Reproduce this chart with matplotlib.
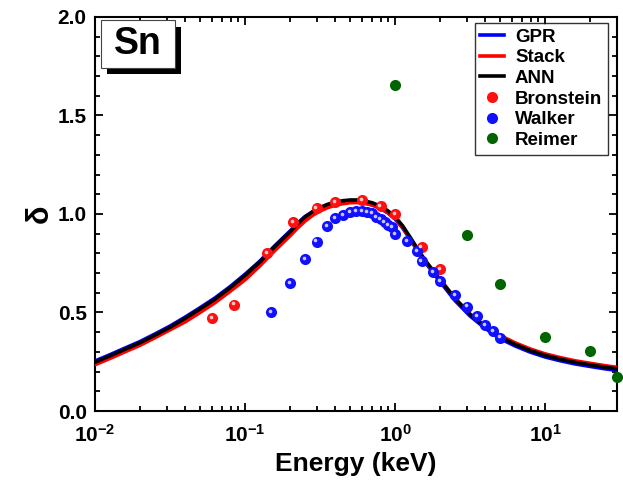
import matplotlib
matplotlib.use("Agg")
import matplotlib.pyplot as plt
from matplotlib.patches import Rectangle
from matplotlib.ticker import MultipleLocator, LogLocator, NullFormatter, FormatStrFormatter
from matplotlib.transforms import offset_copy

plt.rcParams['font.family'] = ['Liberation Sans', 'DejaVu Sans']
plt.rcParams['font.weight'] = 'bold'
plt.rcParams['mathtext.default'] = 'bf'

# ---- model curves ----
curve_E = [0.01, 0.0126, 0.0158, 0.02, 0.0251, 0.0316, 0.0398, 0.0501, 0.0631, 0.0794,
           0.1, 0.126, 0.158, 0.2, 0.224, 0.251, 0.282, 0.316, 0.355, 0.398,
           0.447, 0.501, 0.562, 0.631, 0.708, 0.794, 0.891, 1.0, 1.122, 1.259,
           1.413, 1.585, 2.0, 2.51, 3.16, 3.98, 5.01, 6.31, 7.94, 10.0,
           12.6, 15.8, 20.0, 25.1, 30.0]
ann_d   = [0.248, 0.280, 0.313, 0.347, 0.385, 0.425, 0.470, 0.518, 0.568, 0.625,
           0.688, 0.758, 0.835, 0.910, 0.950, 0.985, 1.012, 1.033, 1.049, 1.060,
           1.067, 1.071, 1.071, 1.066, 1.056, 1.040, 1.017, 0.985, 0.940, 0.882,
           0.822, 0.765, 0.665, 0.570, 0.490, 0.428, 0.375, 0.338, 0.307, 0.282,
           0.263, 0.247, 0.234, 0.222, 0.214]
gpr_d   = [0.254, 0.286, 0.319, 0.353, 0.391, 0.431, 0.476, 0.524, 0.574, 0.631,
           0.694, 0.762, 0.839, 0.914, 0.953, 0.987, 1.010, 1.027, 1.040, 1.049,
           1.056, 1.060, 1.060, 1.055, 1.045, 1.029, 1.006, 0.974, 0.929, 0.872,
           0.812, 0.755, 0.655, 0.560, 0.482, 0.420, 0.367, 0.330, 0.299, 0.274,
           0.255, 0.239, 0.226, 0.214, 0.206]
stack_d = [0.235, 0.267, 0.300, 0.334, 0.372, 0.412, 0.452, 0.500, 0.550, 0.607,
           0.666, 0.738, 0.815, 0.890, 0.929, 0.964, 0.993, 1.015, 1.032, 1.044,
           1.052, 1.057, 1.058, 1.054, 1.045, 1.030, 1.008, 0.979, 0.934, 0.876,
           0.816, 0.759, 0.667, 0.572, 0.492, 0.430, 0.383, 0.346, 0.315, 0.290,
           0.271, 0.255, 0.242, 0.230, 0.222]

# ---- experimental data ----
bron_E = [0.06, 0.085, 0.14, 0.21, 0.3, 0.4, 0.6, 0.8, 1.0, 1.5, 2.0]
bron_d = [0.47, 0.54, 0.80, 0.96, 1.03, 1.06, 1.07, 1.04, 1.00, 0.83, 0.72]

walk_E = [0.15, 0.2, 0.25, 0.3, 0.35, 0.4, 0.45, 0.5, 0.55, 0.6, 0.65, 0.7, 0.75,
          0.8, 0.85, 0.9, 0.95, 1.0, 1.2, 1.4, 1.5, 1.8, 2.0, 2.5, 3.0, 3.5, 4.0,
          4.5, 5.0]
walk_d = [0.50, 0.65, 0.77, 0.86, 0.94, 0.98, 0.995, 1.009, 1.016, 1.013, 1.009,
          1.003, 0.985, 0.972, 0.958, 0.945, 0.932, 0.896, 0.864, 0.813, 0.761,
          0.706, 0.658, 0.587, 0.530, 0.481, 0.438, 0.405, 0.373]

reim_E = [1.0, 3.0, 5.0, 10.0, 20.0, 30.0]
reim_d = [1.652, 0.893, 0.643, 0.378, 0.307, 0.175]

fig = plt.figure(figsize=(6.23, 4.97), dpi=100)
ax = fig.add_axes([0.1525, 0.173, 0.8375, 0.793])

ax.plot(curve_E, gpr_d, color='#0000ff', lw=2.6, label='GPR', zorder=3)
ax.plot(curve_E, stack_d, color='#ff0000', lw=2.6, label='Stack', zorder=4)
ax.plot(curve_E, ann_d, color='#000000', lw=2.6, label='ANN', zorder=5)

# glossy markers: base dot plus a small light highlight
hl = offset_copy(ax.transData, fig=fig, x=-1.2, y=1.2, units='dots')
ax.plot(bron_E, bron_d, 'o', ms=8, mfc='#ff1010', mec='none', label='Bronstein', zorder=6)
ax.plot(bron_E, bron_d, 'o', ms=2.6, mfc='#ffc8c8', mec='none', transform=hl, zorder=7)
ax.plot(walk_E, walk_d, 'o', ms=8, mfc='#1010ff', mec='none', label='Walker', zorder=6)
ax.plot(walk_E, walk_d, 'o', ms=2.6, mfc='#c8c8ff', mec='none', transform=hl, zorder=7)
ax.plot(reim_E, reim_d, 'o', ms=8, mfc='#006400', mec='none', label='Reimer',
        zorder=6, clip_on=False)

ax.set_xscale('log')
ax.set_xlim(0.01, 30)
ax.set_ylim(0, 2.0)
ax.yaxis.set_major_locator(MultipleLocator(0.5))
ax.yaxis.set_minor_locator(MultipleLocator(0.1))
ax.xaxis.set_major_locator(LogLocator(base=10))
ax.xaxis.set_minor_locator(LogLocator(base=10, subs=range(2, 10)))
ax.xaxis.set_minor_formatter(NullFormatter())
ax.yaxis.set_major_formatter(FormatStrFormatter('%.1f'))

ax.tick_params(which='both', direction='in', top=True, right=True, width=1.3)
ax.tick_params(which='major', length=6, labelsize=15)
ax.tick_params(which='minor', length=3.5)
ax.tick_params(axis='x', which='major', pad=9)
ax.tick_params(axis='y', which='major', pad=6)
for lab in ax.get_xticklabels() + ax.get_yticklabels():
    lab.set_fontweight('bold')
for s in ax.spines.values():
    s.set_linewidth(1.5)

ax.set_xlabel('Energy (keV)', fontsize=19, fontweight='bold', labelpad=5)
ax.set_ylabel('δ', fontsize=22, fontweight='bold', labelpad=2)

leg = ax.legend(loc='upper right', bbox_to_anchor=(0.983, 0.985), borderaxespad=0,
                fontsize=13.5, frameon=True, fancybox=False, handlelength=1.25,
                labelspacing=0.19, handletextpad=0.6, borderpad=0.3, markerscale=1.0)
leg.get_frame().set_edgecolor('black')
leg.get_frame().set_linewidth(1.0)
for t in leg.get_texts():
    t.set_fontweight('bold')

# "Sn" label box with drop shadow
ax.add_patch(Rectangle((0.0224, 0.855), 0.142, 0.120, transform=ax.transAxes,
                       facecolor='black', edgecolor='none', zorder=8))
ax.add_patch(Rectangle((0.0115, 0.870), 0.142, 0.121, transform=ax.transAxes,
                       facecolor='white', edgecolor='#444444', lw=0.8, zorder=9))
ax.text(0.0825, 0.930, 'Sn', transform=ax.transAxes, ha='center', va='center',
        fontsize=27, fontweight='bold', zorder=10)

fig.savefig('out.png', dpi=100)
